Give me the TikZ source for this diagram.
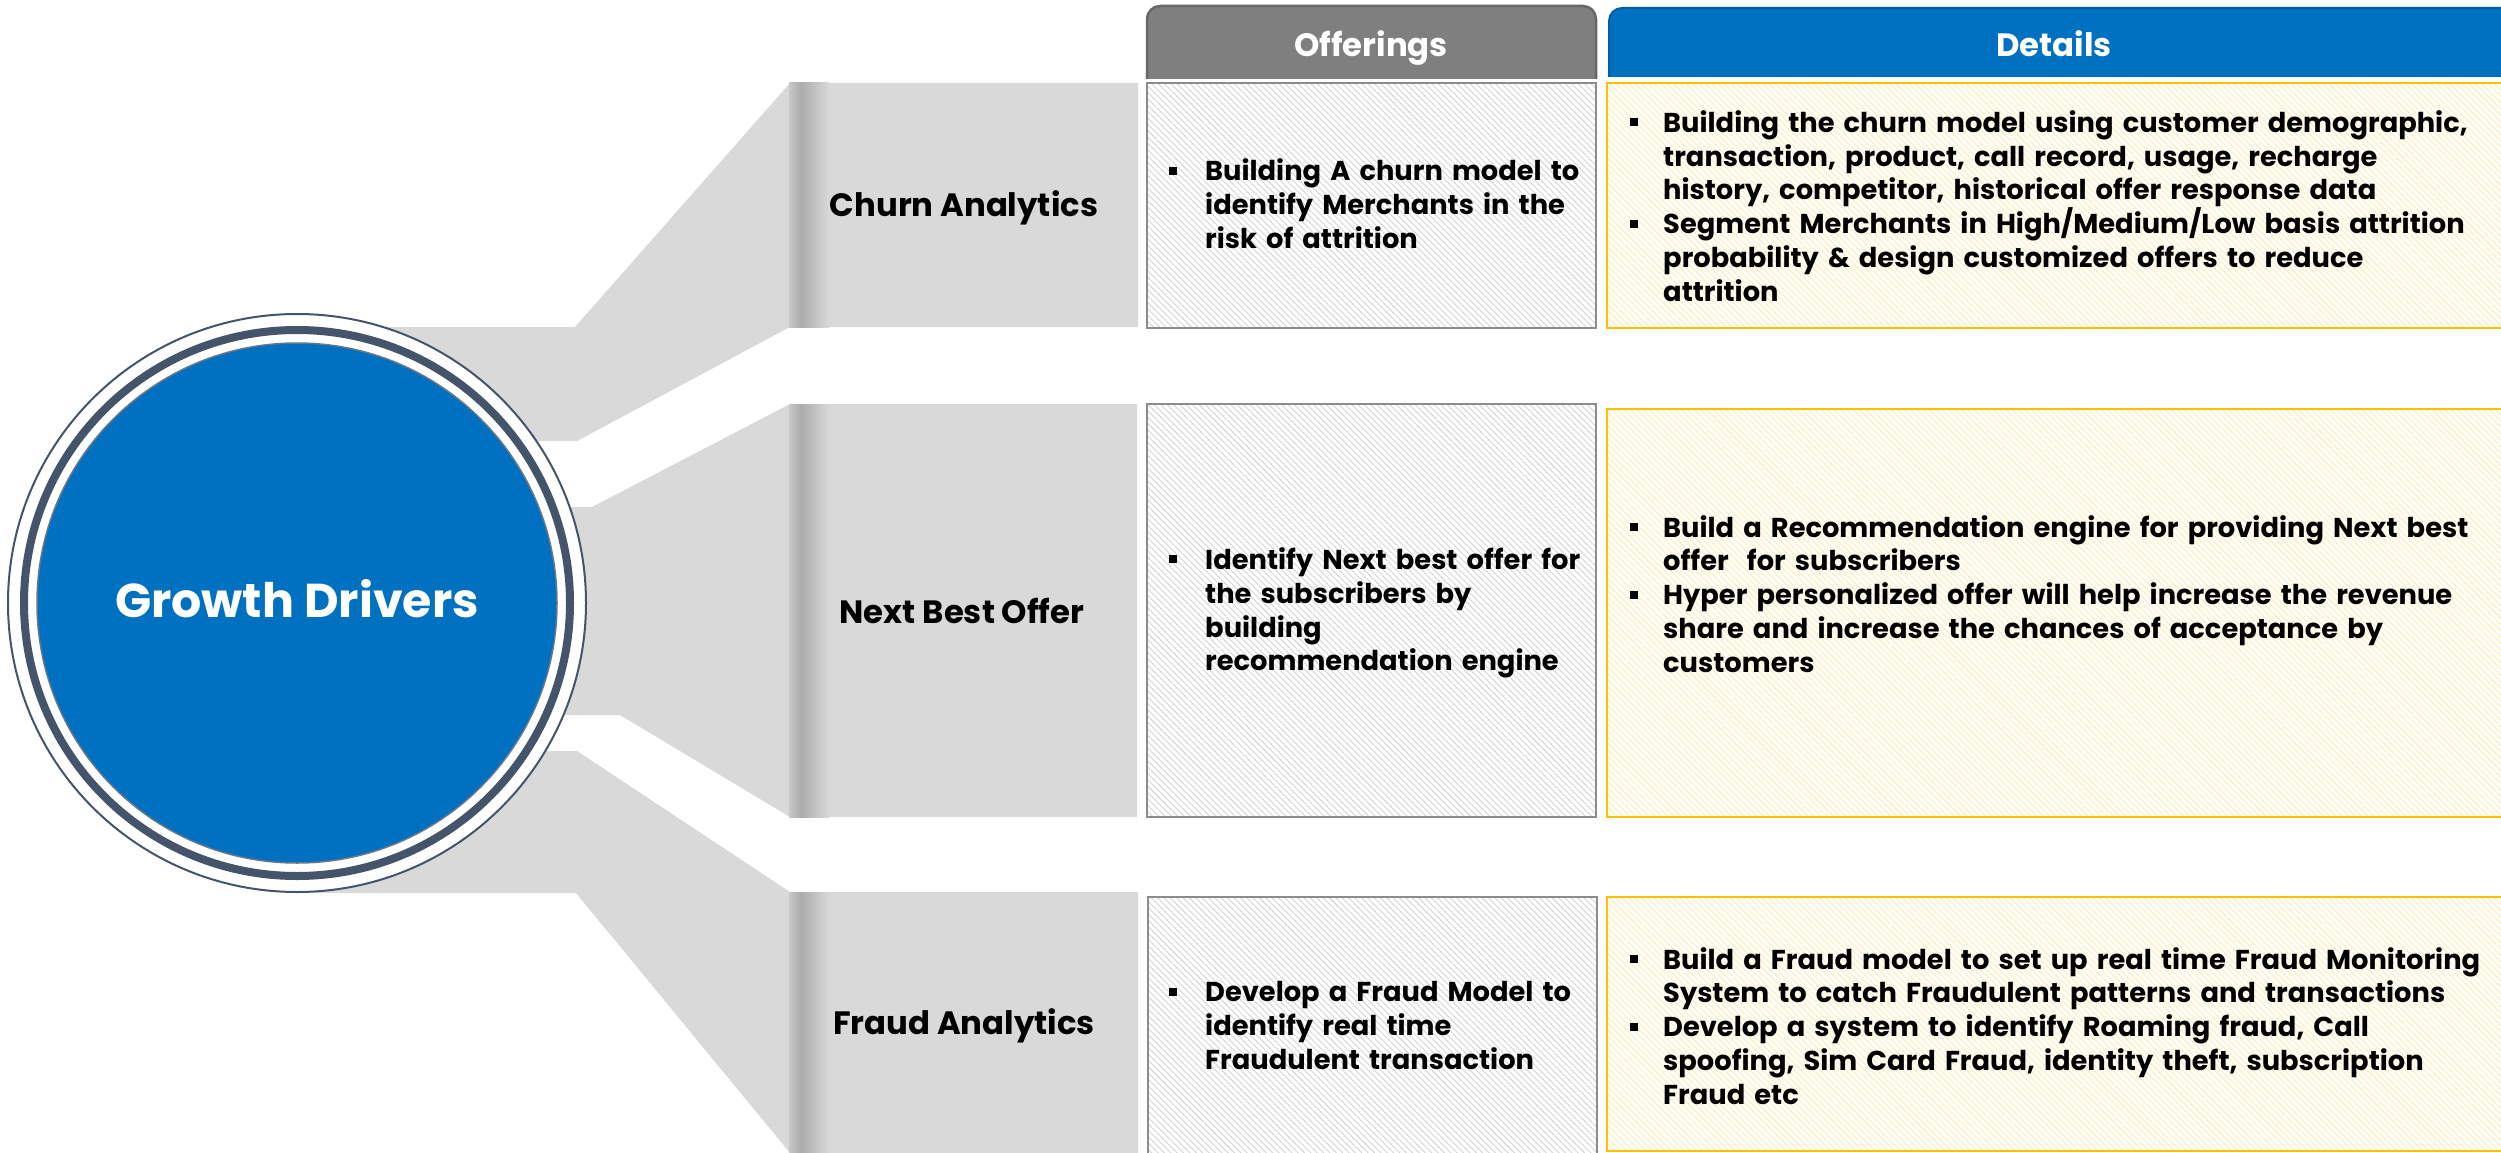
\documentclass[tikz,border=0pt]{standalone}
\usepackage{fontspec}
\setmainfont{Poppins}
\usetikzlibrary{patterns.meta}
\definecolor{gdblue}{HTML}{0070C0}
\definecolor{ringc}{HTML}{44546A}
\definecolor{bandc}{HTML}{D9D9D9}
\definecolor{stripd}{HTML}{ACACAC}
\definecolor{stripm}{HTML}{C8C8C8}
\definecolor{offhead}{HTML}{7F7F7F}
\definecolor{offheadd}{HTML}{676767}
\definecolor{detheadd}{HTML}{005FA8}
\definecolor{offbord}{HTML}{8C8C8C}
\definecolor{hatchg}{HTML}{D4D4D4}
\definecolor{detbord}{HTML}{FFC000}
\definecolor{detfill}{HTML}{FFFEF6}
\definecolor{hatchy}{HTML}{FAEBC4}
\newcommand{\bodyfont}{\fontsize{27.3}{33.8}\selectfont\bfseries}
\newcommand{\bitem}[2]{\par\noindent\hangindent=#1\hangafter=1\makebox[#1][l]{\raisebox{6pt}{\rule{8pt}{8pt}}}#2\par}
\begin{document}
\begin{tikzpicture}[x=1pt,y=-1pt,
  band/.style={fill=bandc},
  offbox/.style={draw=offbord, line width=2pt, preaction={fill=white},
    pattern={Lines[angle=-45,distance=4.5pt,line width=0.9pt]}, pattern color=hatchg},
  detbox/.style={draw=detbord, line width=2.5pt, preaction={fill=detfill},
    pattern={Lines[angle=-45,distance=4.5pt,line width=0.9pt]}, pattern color=hatchy},
  rowlabel/.style={font=\fontsize{32.3}{38}\selectfont\bfseries, text=black, inner sep=0pt},
  headtext/.style={font=\fontsize{32.3}{38}\selectfont\bfseries, text=white, inner sep=0pt},
  bodytext/.style={anchor=west, inner sep=0pt, text width=#1, align=left, font=\bodyfont}
]
\useasboundingbox (0,0) rectangle (2501,1153);

% gray bands
\path[band] (300,327) -- (575,327) -- (790,83) -- (1138,83) -- (1138,327) -- (790,327) -- (577,441) -- (300,441) -- cycle;
\path[band] (300,507) -- (592,507) -- (790,404) -- (1137,404) -- (1137,817) -- (790,817) -- (620,715) -- (300,715) -- cycle;
\path[band] (300,751) -- (577,751) -- (790,892) -- (1138,892) -- (1138,1153) -- (790,1153) -- (576,893) -- (300,893) -- cycle;
\foreach \ya/\yb in {83/327, 404/817, 892/1153}{
  \shade[left color=stripm, right color=stripd] (789,\ya) rectangle (801,\yb);
  \shade[left color=stripd, right color=bandc] (801,\ya) rectangle (829,\yb);
}

% circle
\filldraw[fill=white, draw=ringc, line width=2pt] (297,603) circle[radius=289];
\draw[ringc, line width=8pt] (297,603) circle[radius=273];
\node[circle, fill=gdblue, draw=ringc!80, line width=1.5pt, minimum size=520pt, inner sep=0pt,
      text=white, font=\fontsize{47.5}{52}\selectfont\bfseries] (gd) at (297,603) {\raisebox{9pt}{Growth Drivers}};

% row labels
\node[rowlabel] (l1) at (964,208) {Churn Analytics};
\node[rowlabel] (l2) at (962,611) {Next Best Offer};
\node[rowlabel] (l3) at (964,1026) {Fraud Analytics};

% headers
\filldraw[fill=offhead, draw=offheadd, line width=2.5pt, rounded corners=13pt] (1147,79) -- (1147,6) -- (1596,6) -- (1596,79);
\node[headtext] (hoff) at (1371,48) {Offerings};
\filldraw[fill=gdblue, draw=detheadd, line width=2pt, rounded corners=13pt] (1609,77) -- (1609,8) -- (2520,8) -- (2520,77);
\node[headtext] (hdet) at (2054,44) {Details};

% boxes
\path[offbox] (1147,83) rectangle (1596,328);
\path[offbox] (1147,404) rectangle (1596,817);
\path[offbox] (1148,897) rectangle (1597,1160);
\path[detbox] (1607,83) rectangle (2510,328);
\path[detbox] (1607,409) rectangle (2510,817);
\path[detbox] (1607,897) rectangle (2510,1151);

% texts
\node[bodytext=440pt] (o1) at (1169,198) {\bitem{36pt}{Building A churn model to\newline identify Merchants in the\newline risk of attrition}};
\node[bodytext=440pt] (o2) at (1169,607) {\bitem{36pt}{Identify Next best offer for\newline the subscribers by\newline building\newline recommendation engine}};
\node[bodytext=440pt] (o3) at (1169,1019) {\bitem{36pt}{Develop a Fraud Model to\newline identify real time\newline Fraudulent transaction}};

\node[bodytext=880pt] (d1) at (1630,200) {\bitem{33pt}{Building the churn model using customer demographic,\newline transaction, product, call record, usage, recharge\newline history, competitor, historical offer response data}%
\bitem{33pt}{Segment Merchants in High/Medium/Low basis attrition\newline probability \& design customized offers to reduce\newline attrition}};
\node[bodytext=880pt] (d2) at (1630,588) {\bitem{33pt}{Build a Recommendation engine for providing Next best\newline offer\ \ for subscribers}%
\bitem{33pt}{Hyper personalized offer will help increase the revenue\newline share and increase the chances of acceptance by\newline customers}};
\node[bodytext=880pt] (d3) at (1630,1020) {\bitem{33pt}{Build a Fraud model to set up real time Fraud Monitoring\newline System to catch Fraudulent patterns and transactions}%
\bitem{33pt}{Develop a system to identify Roaming fraud, Call\newline spoofing, Sim Card Fraud, identity theft, subscription\newline Fraud etc}};
\end{tikzpicture}
\end{document}
